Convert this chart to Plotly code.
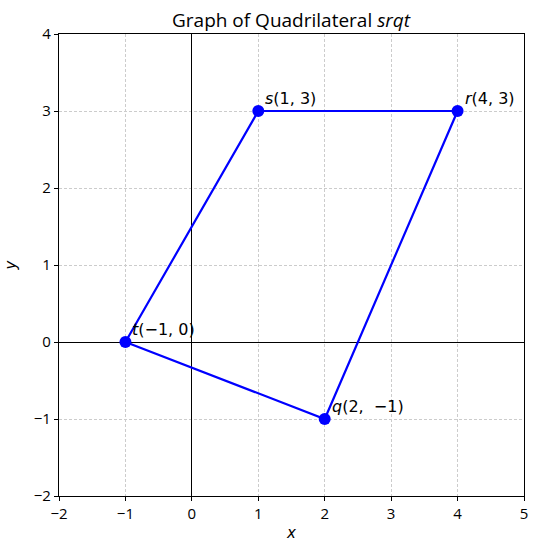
import plotly.graph_objects as go

# vertices of quadrilateral srqt
names = ["s", "r", "q", "t"]
xs = [1, 4, 2, -1]
ys = [3, 3, -1, 0]
labels = ["s(1, 3)", "r(4, 3)", "q(2,  −1)", "t(−1, 0)"]

x_ticks = [-2, -1, 0, 1, 2, 3, 4, 5]
y_ticks = [-2, -1, 0, 1, 2, 3, 4]

FONT = "Open Sans, Inter, sans-serif"

fig = go.Figure()

# closed outline: t -> s -> r -> q -> t
order = [3, 0, 1, 2, 3]
fig.add_trace(go.Scatter(
    x=[xs[i] for i in order],
    y=[ys[i] for i in order],
    mode="lines",
    line=dict(color="blue", width=2.2),
    hoverinfo="skip",
))
fig.add_trace(go.Scatter(
    x=xs, y=ys, mode="markers",
    marker=dict(color="blue", size=12),
    hoverinfo="skip",
))

for n, x, y, lab in zip(names, xs, ys, labels):
    rest = lab[len(n):]
    fig.add_annotation(
        x=x, y=y, text="<i>" + n + "</i>" + rest,
        showarrow=False, xanchor="left", yanchor="bottom",
        xshift=5, yshift=1,
        font=dict(family="DejaVu Sans", size=16, color="black"),
    )

axis_common = dict(
    showgrid=True, gridcolor="#cccccc", griddash="3px,2px", gridwidth=1,
    zeroline=True, zerolinecolor="black", zerolinewidth=1.3,
    showline=True, linecolor="black", linewidth=1.2, mirror=True,
    ticks="outside", ticklen=4, tickcolor="black",
    tickfont=dict(family=FONT, size=15, color="black"),
    automargin=False,
)

fig.update_layout(
    width=539, height=551,
    margin=dict(l=59, r=15, t=34, b=55),
    plot_bgcolor="white", paper_bgcolor="white",
    showlegend=False,
    title=dict(text="Graph of Quadrilateral <i>srqt</i>", x=0.54, xanchor="center",
               y=0.963, yanchor="middle",
               font=dict(family=FONT, size=19, color="black")),
    xaxis=dict(range=[-2, 5], tickvals=x_ticks,
               ticktext=[str(v).replace("-", "−") for v in x_ticks],
               title=dict(text="<i>x</i>", standoff=5,
                          font=dict(family="DejaVu Sans", size=15, color="black")),
               **axis_common),
    yaxis=dict(range=[-2, 4], tickvals=y_ticks,
               ticktext=[str(v).replace("-", "−") for v in y_ticks],
               title=dict(text="<i>y</i>", standoff=13,
                          font=dict(family="DejaVu Sans", size=15, color="black")),
               **axis_common),
)

fig.write_html("out.html", config={"displayModeBar": False},
               post_script="document.body.style.margin='0';")
